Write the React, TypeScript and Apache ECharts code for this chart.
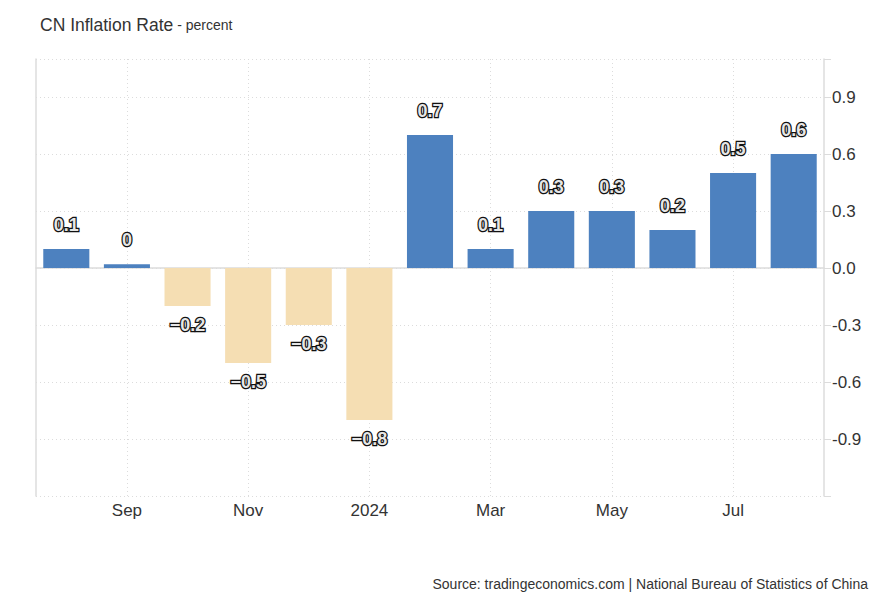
import React, { useEffect, useRef } from "react";
import * as echarts from "echarts";

const categories = ["Aug", "Sep", "Oct", "Nov", "Dec", "2024", "Feb", "Mar", "Apr", "May", "Jun", "Jul", "Aug"];
const values = [0.1, 0.02, -0.2, -0.5, -0.3, -0.8, 0.7, 0.1, 0.3, 0.3, 0.2, 0.5, 0.6];
const labelTexts = ["0.1", "0", "\u22120.2", "\u22120.5", "\u22120.3", "\u22120.8", "0.7", "0.1", "0.3", "0.3", "0.2", "0.5", "0.6"];

const FONT = "'Liberation Sans', Arial, sans-serif";
const POS = "#4d81bf";
const NEG = "#f5deb3";
const GRID = "#dcdcdc";

export default function App() {
  const ref = useRef<HTMLDivElement>(null);
  useEffect(() => {
    document.body.style.margin = "0";
    if (!ref.current) return;
    const chart = echarts.init(ref.current, undefined, { renderer: "svg" });
    const showLabel = (i: number) => i % 2 === 1;
    chart.setOption({
      animation: false,
      textStyle: { fontFamily: FONT },
      title: {
        left: 35,
        top: 11,
        text: "{a|CN Inflation Rate}{b| - percent}",
        textStyle: {
          fontWeight: "normal",
          rich: {
            a: { fontSize: 17.5, color: "#333", fontFamily: FONT, fontWeight: "normal" },
            b: { fontSize: 14, color: "#333", fontFamily: FONT, fontWeight: "normal" },
          },
        },
      },
      graphic: [
        {
          type: "text",
          right: 16,
          top: 577,
          style: {
            text: "Source: tradingeconomics.com | National Bureau of Statistics of China",
            fontSize: 14,
            fill: "#333",
            fontFamily: FONT,
          },
        },
      ],
      grid: { left: 36, right: 60, top: 59, bottom: 108 },
      xAxis: {
        type: "category",
        data: categories,
        axisLine: { show: true, lineStyle: { color: GRID, width: 1.5 } },
        axisTick: { show: false },
        axisLabel: {
          interval: (i: number) => showLabel(i),
          color: "#333",
          fontSize: 17,
          margin: 6,
          fontFamily: FONT,
        },
        splitLine: {
          show: true,
          interval: (i: number) => showLabel(i),
          alignWithLabel: true,
          lineStyle: { color: GRID, type: [1, 3], width: 1 },
        },
      },
      yAxis: [
        {
          type: "value",
          position: "right",
          min: -1.2,
          max: 1.1,
          interval: 0.3,
          axisLine: { show: true, lineStyle: { color: GRID, width: 1.5 } },
          axisTick: { show: true, length: 7, lineStyle: { color: GRID } },
          axisLabel: {
            color: "#333",
            fontSize: 17,
            margin: 8,
            fontFamily: FONT,
            formatter: (v: number) =>
              Math.abs(v - 1.1) < 1e-6 || Math.abs(v + 1.2) < 1e-6 ? "" : v.toFixed(1),
          },
          splitLine: { show: true, lineStyle: { color: GRID, type: [1, 3], width: 1 } },
        },
        {
          type: "value",
          position: "left",
          min: -1.2,
          max: 1.1,
          interval: 0.3,
          axisLine: { show: true, lineStyle: { color: GRID, width: 1.5 } },
          axisTick: { show: false },
          axisLabel: { show: false },
          splitLine: { show: false },
        },
      ],
      series: [
        {
          type: "bar",
          barWidth: "76%",
          data: values.map((v, i) => ({
            value: v,
            itemStyle: { color: v >= 0 ? POS : NEG },
            label: {
              show: true,
              position: v >= 0 ? "top" : "bottom",
              distance: v >= 0 ? 15 : 10,
              formatter: () => labelTexts[i],
              fontSize: 18,
              fontWeight: "bold",
              color: "#e6e6e6",
              textBorderColor: "#111",
              textBorderWidth: 2.5,
              fontFamily: FONT,
            },
          })),
        },
      ],
    });
    return () => chart.dispose();
  }, []);
  return <div ref={ref} style={{ width: 884, height: 604 }} />;
}
